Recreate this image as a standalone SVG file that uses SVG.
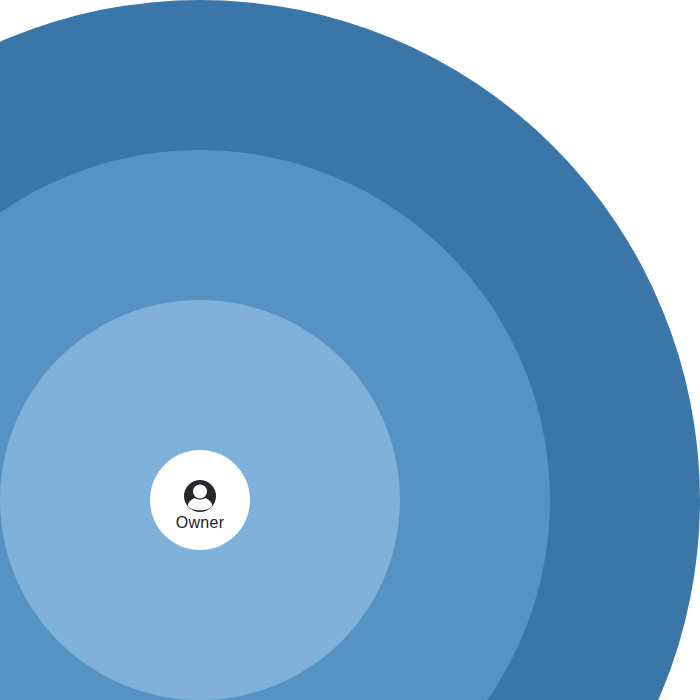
<svg xmlns="http://www.w3.org/2000/svg" width="700" height="700" viewBox="0 0 700 700">
<style>
.label{font-family:"Liberation Sans",Arial,sans-serif;font-size:16px;fill:#1f2227;text-anchor:middle;letter-spacing:.3px}
.ic{fill:#24272c}
.ih{fill:#fff}
</style>
<rect width="700" height="700" fill="#fff"/>
<circle id="outer" cx="200" cy="500" r="500" fill="#3a77a8"/>
<circle id="middle" cx="200" cy="500" r="350" fill="#5693c2"/>
<circle id="inner" cx="200" cy="500" r="200" fill="#80b1da"/>
<g id="owner">
<circle cx="200" cy="500" r="50" fill="#fff"/>
<circle class="ic" cx="200" cy="496" r="16"/>
<circle class="ih" cx="200" cy="491.500" r="7"/>
<path class="ih" d="M188 504C189.500 500.500 192.500 498.800 195 498C198 500 202 500 205 498C207.500 498.800 210.500 500.500 212 504C212.500 505.500 211.500 506.800 210.500 507.500C207.500 509.800 204 510.300 200 510.300C196 510.300 192.500 509.800 189.500 507.500C188.500 506.800 187.500 505.500 188 504Z"/>
<text class="label" x="200" y="528">Owner</text>
</g>
<g id="connectors"></g>
</svg>
